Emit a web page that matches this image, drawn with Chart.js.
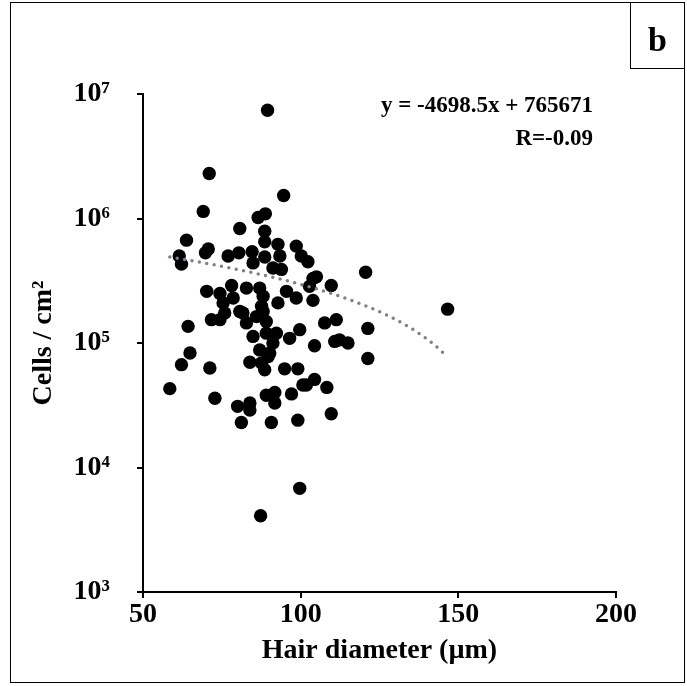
<!DOCTYPE html>
<html>
<head>
<meta charset="utf-8">
<script src="https://cdn.jsdelivr.net/npm/chart.js@4.4.1/dist/chart.umd.min.js"></script>
<style>
  html, body { margin: 0; padding: 0; background: #fff; }
  #wrap { position: relative; width: 687px; height: 686px; }
  #frame { position: absolute; left: 10px; top: 2px; width: 675px; height: 681px; border: 1px solid #000; box-sizing: border-box; pointer-events: none; }
  #panel { position: absolute; left: 630px; top: 2px; width: 55px; height: 67px; border: 1px solid #000; box-sizing: border-box;
           font: bold 34px "Liberation Serif", serif; text-align: center; line-height: 74px; overflow: hidden; }
  #eq { position: absolute; right: 94px; top: 88px; font: bold 23px "Liberation Serif", serif; line-height: 33px; text-align: right; white-space: nowrap; }
</style>
</head>
<body>
<div id="wrap">
  <canvas id="chart" width="687" height="686"></canvas>
  <div id="frame"></div>
  <div id="panel">b</div>
  <div id="eq">y = -4698.5x + 765671<br>R=-0.09</div>
</div>
<script>
// hair diameter (µm) per sample
const diameter = [
  89.5, 71.0, 94.6, 69.1, 86.5, 88.8, 80.7, 88.6, 88.6, 63.8,
  70.7, 69.8, 77.0, 80.4, 84.6, 84.9, 88.6, 92.8, 93.4, 98.6,
  100.2, 102.3, 61.5, 62.2, 91.2, 93.9, 103.9, 105.0, 102.8, 109.7,
  120.6, 146.6, 95.5, 98.6, 103.9, 92.8, 82.8, 87.0, 88.1, 87.6,
  88.1, 86.0, 89.1, 81.7, 82.8, 107.6, 111.3, 99.7, 96.5, 121.3,
  84.9, 89.1, 92.3, 91.2, 104.4, 110.8, 112.3, 115.0, 87.0, 90.2,
  83.9, 87.6, 88.6, 94.9, 99.1, 121.3, 100.7, 104.4, 108.3, 97.1,
  89.1, 91.8, 91.8, 83.9, 83.9, 109.7, 90.7, 99.1, 81.2, 70.2,
  74.4, 78.1, 75.4, 78.6, 75.9, 71.7, 74.4, 64.3, 80.7, 64.9,
  62.2, 71.2, 58.5, 72.8, 80.0, 99.7, 87.3, 89.7, 101.8
];
// cells / cm2 per sample
const cells = [
  7.4e6, 2.3e6, 1.53e6, 1.14e6, 1.02e6, 1.09e6, 8.3e5, 7.9e5, 6.5e5, 6.7e5,
  5.7e5, 5.3e5, 5.0e5, 5.3e5, 5.4e5, 4.4e5, 4.9e5, 6.2e5, 5.0e5, 6.0e5,
  5.0e5, 4.5e5, 5.0e5, 4.3e5, 4.0e5, 3.9e5, 3.3e5, 3.4e5, 2.85e5, 2.9e5,
  3.7e5, 1.87e5, 2.6e5, 2.3e5, 2.2e5, 2.1e5, 2.76e5, 2.76e5, 2.37e5, 1.97e5,
  1.79e5, 1.63e5, 1.49e5, 1.74e5, 1.45e5, 1.45e5, 1.54e5, 1.28e5, 1.09e5, 1.31e5,
  1.13e5, 1.2e5, 1.2e5, 1.0e5, 9.5e4, 1.03e5, 1.06e5, 1.0e5, 8.8e4, 8.3e4,
  7.0e4, 6.9e4, 6.1e4, 6.2e4, 6.2e4, 7.5e4, 4.6e4, 5.1e4, 4.4e4, 3.9e4,
  3.8e4, 4.0e4, 3.3e4, 3.3e4, 2.9e4, 2.7e4, 2.3e4, 2.4e4, 2.3e4, 2.6e5,
  2.5e5, 2.9e5, 2.1e5, 2.3e5, 1.74e5, 1.54e5, 1.54e5, 1.36e5, 1.79e5, 8.3e4,
  6.7e4, 6.3e4, 4.3e4, 3.6e4, 3.1e4, 6.8e3, 4.1e3, 7.8e4, 4.6e4
];
const xTicks = [50, 100, 150, 200];
const yTicks = [1e3, 1e4, 1e5, 1e6, 1e7];
const yTickLabels = ['10³', '10⁴', '10⁵', '10⁶', '10⁷'];
// linear fit shown on the chart
const slope = -4698.5;
const intercept = 765671;

const points = diameter.map((d, i) => ({ x: d, y: cells[i] }));

// trendline from the smallest to the largest diameter
const xMin = Math.min(...diameter), xMax = Math.max(...diameter);
const trend = [];
for (let i = 0; i <= 80; i++) {
  const x = xMin + (xMax - xMin) * i / 80;
  trend.push({ x: x, y: slope * x + intercept });
}

const serif = '"Liberation Serif", "Times New Roman", serif';
const axisFont = { family: serif, size: 28, weight: 'bold' };

new Chart(document.getElementById('chart'), {
  type: 'scatter',
  data: {
    datasets: [{
      type: 'line',
      data: trend,
      borderColor: '#80808c',
      borderWidth: 3.5,
      borderDash: [0, 7.5],
      borderCapStyle: 'round',
      pointRadius: 0,
      fill: false,
      tension: 0,
      order: 0
    }, {
      data: points,
      backgroundColor: '#000',
      borderWidth: 0,
      pointRadius: 6.7,
      pointHoverRadius: 6.7,
      order: 1
    }]
  },
  options: {
    responsive: false,
    animation: false,
    devicePixelRatio: 1,
    layout: { padding: { left: 10, top: 94, right: 71, bottom: 4 } },
    plugins: { legend: { display: false }, tooltip: { enabled: false } },
    scales: {
      x: {
        type: 'linear',
        min: 50, max: 200,
        afterBuildTicks: s => { s.ticks = xTicks.map(v => ({ value: v })); },
        afterFit: s => { s.height = 90; },
        ticks: { color: '#000', font: axisFont, padding: 0, maxRotation: 0 },
        grid: { drawOnChartArea: false, tickLength: 6, color: '#000', lineWidth: 2 },
        border: { color: '#000', width: 2 },
        title: { display: true, text: 'Hair diameter (µm)', color: '#000', font: axisFont, padding: { top: 0, bottom: 14 } }
      },
      y: {
        type: 'logarithmic',
        min: 1e3, max: 1e7,
        afterBuildTicks: s => { s.ticks = yTicks.map(v => ({ value: v })); },
        afterFit: s => { s.width = 133; },
        ticks: {
          color: '#000', font: axisFont, padding: 27,
          callback: v => yTickLabels[yTicks.indexOf(v)]
        },
        grid: { drawOnChartArea: false, tickLength: 6, color: '#000', lineWidth: 2 },
        border: { color: '#000', width: 2 },
        title: { display: true, text: 'Cells / cm²', color: '#000', font: axisFont, padding: { top: 17, bottom: 0 } }
      }
    }
  }
});
</script>
</body>
</html>
